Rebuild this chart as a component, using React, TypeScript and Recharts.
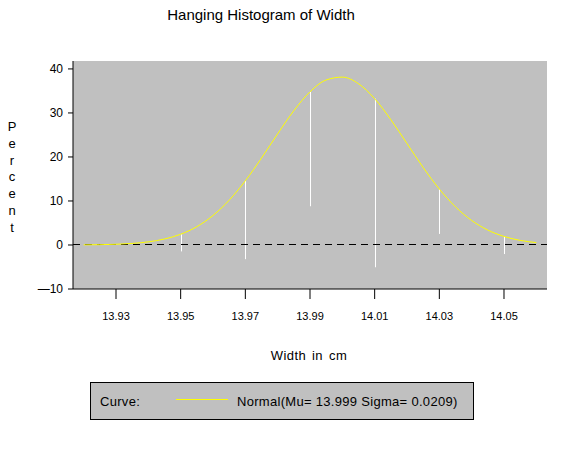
import React from 'react';
import { ComposedChart, Line, Bar, XAxis, YAxis, CartesianGrid, ReferenceLine, Legend } from 'recharts';

// Normal curve (percent), x in cm
const curveX = [
  13.92, 13.925, 13.93, 13.935, 13.94, 13.945, 13.95, 13.955, 13.96, 13.965,
  13.97, 13.975, 13.98, 13.985, 13.99, 13.995, 14.0, 14.005, 14.01, 14.015,
  14.02, 14.025, 14.03, 14.035, 14.04, 14.045, 14.05, 14.055, 14.06,
];
const curvePct = [
  0.03, 0.07, 0.16, 0.35, 0.71, 1.36, 2.44, 4.16, 6.7, 10.17,
  14.58, 19.75, 25.26, 30.51, 34.8, 37.49, 38.14, 36.64, 33.24, 28.48,
  23.05, 17.61, 12.71, 8.66, 5.57, 3.39, 1.94, 1.05, 0.54,
];

// Histogram bins (midpoints) and their percentages
const binMid = [13.93, 13.95, 13.97, 13.99, 14.01, 14.03, 14.05];
const binPct = [0, 3.9, 17.8, 26.0, 38.3, 10.2, 4.0];

const xTicks = [13.93, 13.95, 13.97, 13.99, 14.01, 14.03, 14.05];
const yTicks = [-10, 0, 10, 20, 30, 40];
const xDomain = [13.9167, 14.0633];
const yDomain = [-10, 41.8];

const curveName = 'Normal(Mu= 13.999 Sigma= 0.0209)';
const curveColor = '#ffff00';

const data = curveX.map((x, i) => {
  const bi = binMid.findIndex((m) => Math.abs(m - x) < 1e-6);
  const row: any = { x, curve: curvePct[i] };
  if (bi >= 0 && binPct[bi] > 0) {
    row.bar = [curvePct[i] - binPct[bi], curvePct[i]];
  }
  return row;
});

const FONT = '"Liberation Sans", Arial, Helvetica, sans-serif';

const HangLine = (props: any) => {
  const { x, y, width, height } = props;
  if (height == null || !isFinite(height) || Math.abs(height) < 0.5) return <g />;
  const cx = Math.round(x + width / 2) + 0.5;
  return <line x1={cx} x2={cx} y1={y} y2={y + height} stroke="#ffffff" strokeWidth={1} />;
};

const CrispDash = (props: any) => {
  const { x1, y1, x2, y2 } = props;
  if (![x1, y1, x2, y2].every((v) => typeof v === 'number' && isFinite(v))) return <g />;
  const yy = Math.floor(y1) + 0.5;
  return <line x1={x1} x2={x2} y1={yy} y2={Math.floor(y2) + 0.5} stroke="#000" strokeWidth={1} strokeDasharray="7 5" />;
};

const LegendBox = (props: any) => {
  const items = (props.payload || []).filter((p: any) => p.value === curveName);
  const item = items[0];
  return (
    <div
      style={{
        position: 'relative',
        boxSizing: 'border-box',
        width: 384,
        height: 38,
        border: '1px solid #000',
        background: '#c0c0c0',
        fontFamily: FONT,
        fontSize: 13,
        letterSpacing: 0.3,
        color: '#000',
      }}
    >
      <span style={{ position: 'absolute', left: 9, top: 11, lineHeight: '15px' }}>Curve:</span>
      <svg width={52} height={3} style={{ position: 'absolute', left: 85, top: 15 }}>
        <line x1={0} x2={52} y1={1.5} y2={1.5} stroke={curveColor} strokeWidth={1} />
      </svg>
      <span style={{ position: 'absolute', left: 146, top: 11, lineHeight: '15px', whiteSpace: 'nowrap' }}>
        {item ? item.value : curveName}
      </span>
    </div>
  );
};

const percentLetters = ['P', 'e', 'r', 'c', 'e', 'n', 't'];

export default function App() {
  return (
    <div style={{ position: 'absolute', left: 0, top: 0, width: 565, height: 450, background: '#fff' }}>
      <ComposedChart
        width={565}
        height={450}
        data={data}
        margin={{ top: 61, right: 18, bottom: 0, left: 0 }}
        style={{ fontFamily: FONT }}
      >
        <CartesianGrid fill="#c0c0c0" fillOpacity={1} horizontal={false} vertical={false} />
        <XAxis
          dataKey="x"
          type="number"
          domain={xDomain}
          ticks={xTicks}
          allowDataOverflow
          tickFormatter={(v: number) => v.toFixed(2)}
          height={161}
          tickSize={10}
          tickMargin={13}
          stroke="#000"
          tick={{ fill: '#000', fontSize: 11, fontFamily: FONT }}
        />
        <XAxis
          xAxisId="top"
          orientation="top"
          dataKey="x"
          type="number"
          domain={xDomain}
          allowDataOverflow
          height={0}
          tick={false}
          tickLine={false}
          stroke="#000"
        />
        <YAxis
          type="number"
          domain={yDomain}
          ticks={yTicks}
          allowDataOverflow
          width={73}
          tickSize={5}
          tickMargin={5}
          stroke="#000"
          tickFormatter={(v: number) => (v < 0 ? '\u2014' + String(-v) : String(v))}
          tick={{ fill: '#000', fontSize: 12, fontFamily: FONT }}
        />
        <YAxis
          yAxisId="right"
          orientation="right"
          domain={yDomain}
          width={0}
          tick={false}
          tickLine={false}
          stroke="#000"
        />
        <ReferenceLine y={0} stroke="#000" strokeDasharray="7 5" shape={CrispDash} />
        <Bar dataKey="bar" barSize={2} shape={HangLine} isAnimationActive={false} legendType="none" />
        <Line
          dataKey="curve"
          name={curveName}
          type="monotone"
          stroke={curveColor}
          strokeWidth={1}
          dot={false}
          activeDot={false}
          isAnimationActive={false}
        />
        <Legend
          layout="horizontal"
          verticalAlign="middle"
          align="center"
          content={<LegendBox />}
          wrapperStyle={{ position: 'absolute', left: 90, top: 382, width: 384, height: 38 }}
        />
        <text x={261} y={20} textAnchor="middle" fontSize={15} fontFamily={FONT} fill="#000">
          Hanging Histogram of Width
        </text>
        <text x={309} y={360} textAnchor="middle" fontSize={13} fontFamily={FONT} fill="#000" letterSpacing={0.4} wordSpacing={2}>
          Width in cm
        </text>
        <text x={12} y={131} textAnchor="middle" fontSize={13} fontFamily={FONT} fill="#000">
          {percentLetters.map((c, i) => (
            <tspan key={i} x={12} dy={i === 0 ? 0 : 16.8}>
              {c}
            </tspan>
          ))}
        </text>
      </ComposedChart>
    </div>
  );
}
